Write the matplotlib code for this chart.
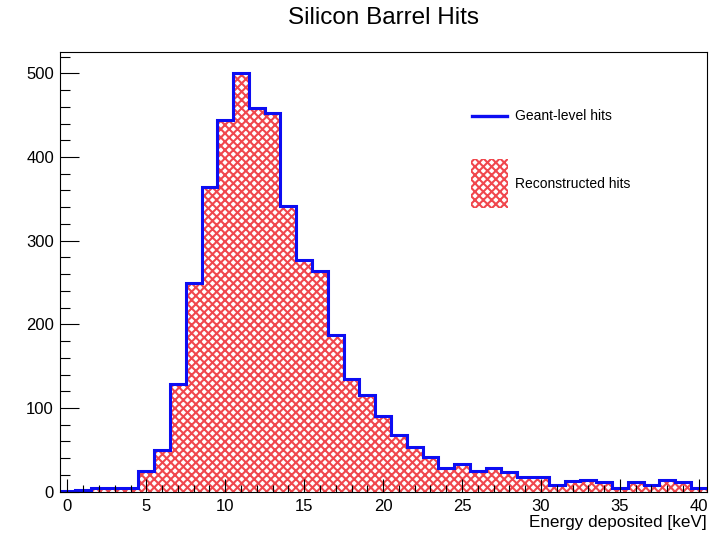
import numpy as np
import matplotlib
matplotlib.use("Agg")
import matplotlib.pyplot as plt
from matplotlib.patches import Rectangle
from matplotlib.lines import Line2D
from matplotlib.ticker import MultipleLocator

plt.rcParams['font.family'] = ['Liberation Sans', 'DejaVu Sans']
plt.rcParams['hatch.linewidth'] = 1.5

# Energy-deposit histogram, 1 keV bins centred on integer values
bin_edges = np.arange(-0.5, 41.0, 1.0)
geant_counts = [1, 2, 4, 4, 5, 25, 50, 129, 250, 364,
                444, 500, 459, 453, 341, 277, 264, 187, 135, 116,
                90, 68, 53, 41, 28, 33, 25, 28, 24, 17,
                17, 8, 13, 14, 11, 5, 11, 8, 14, 11, 5]
reco_counts = list(geant_counts)

title = "Silicon Barrel Hits"
x_label = "Energy deposited [keV]"
legend_labels = ["Geant-level hits", "Reconstructed hits"]

RED = (0.94, 0.28, 0.30)
BLUE = (0.05, 0.05, 0.95)
HATCH = 'xxxx'

fig = plt.figure(figsize=(7.15, 5.33), dpi=100)
ax = fig.add_axes([59.5 / 715, 1 - 491.7 / 533, (706.7 - 59.5) / 715, (491.7 - 52.4) / 533])

ax.stairs(reco_counts, bin_edges, fill=True, facecolor='white',
          edgecolor=RED, hatch=HATCH, linewidth=0)
ax.stairs(geant_counts, bin_edges, color=BLUE, linewidth=2.2, baseline=None)

ax.set_xlim(bin_edges[0], bin_edges[-1])
ax.set_ylim(0, 1.05 * max(geant_counts))

ax.xaxis.set_major_locator(MultipleLocator(5))
ax.xaxis.set_minor_locator(MultipleLocator(1))
ax.yaxis.set_major_locator(MultipleLocator(100))
ax.yaxis.set_minor_locator(MultipleLocator(20))
ax.tick_params(axis='x', which='major', direction='in', length=9.4, width=0.8,
               labelsize=12, pad=5, top=False)
ax.tick_params(axis='x', which='minor', direction='in', length=4.7, width=0.8, top=False)
ax.tick_params(axis='y', which='major', direction='in', length=14, width=0.8,
               labelsize=12, pad=4, right=False)
ax.tick_params(axis='y', which='minor', direction='in', length=7, width=0.8, right=False)
for sp in ax.spines.values():
    sp.set_linewidth(0.8)

ax.set_xlabel(x_label, fontsize=12.3, loc='right', labelpad=1)

fig.text(383 / 715, 1 - 18 / 533, title, ha='center', va='center', fontsize=17.5)

# Legend drawn in figure pixels
def fx(px):
    return px / 715

def fy(py):
    return 1 - py / 533

fig.add_artist(Line2D([fx(472), fx(507)], [fy(116), fy(116)], color=BLUE, linewidth=2.4))
fig.text(fx(515), fy(116), legend_labels[0], ha='left', va='center', fontsize=10)
fig.add_artist(Rectangle((fx(471), fy(208)), fx(508) - fx(471), fy(159) - fy(208),
                         transform=fig.transFigure, facecolor='white', edgecolor=RED,
                         hatch=HATCH, linewidth=0))
fig.text(fx(515), fy(184), legend_labels[1], ha='left', va='center', fontsize=10)

fig.savefig("out.png", dpi=100)
